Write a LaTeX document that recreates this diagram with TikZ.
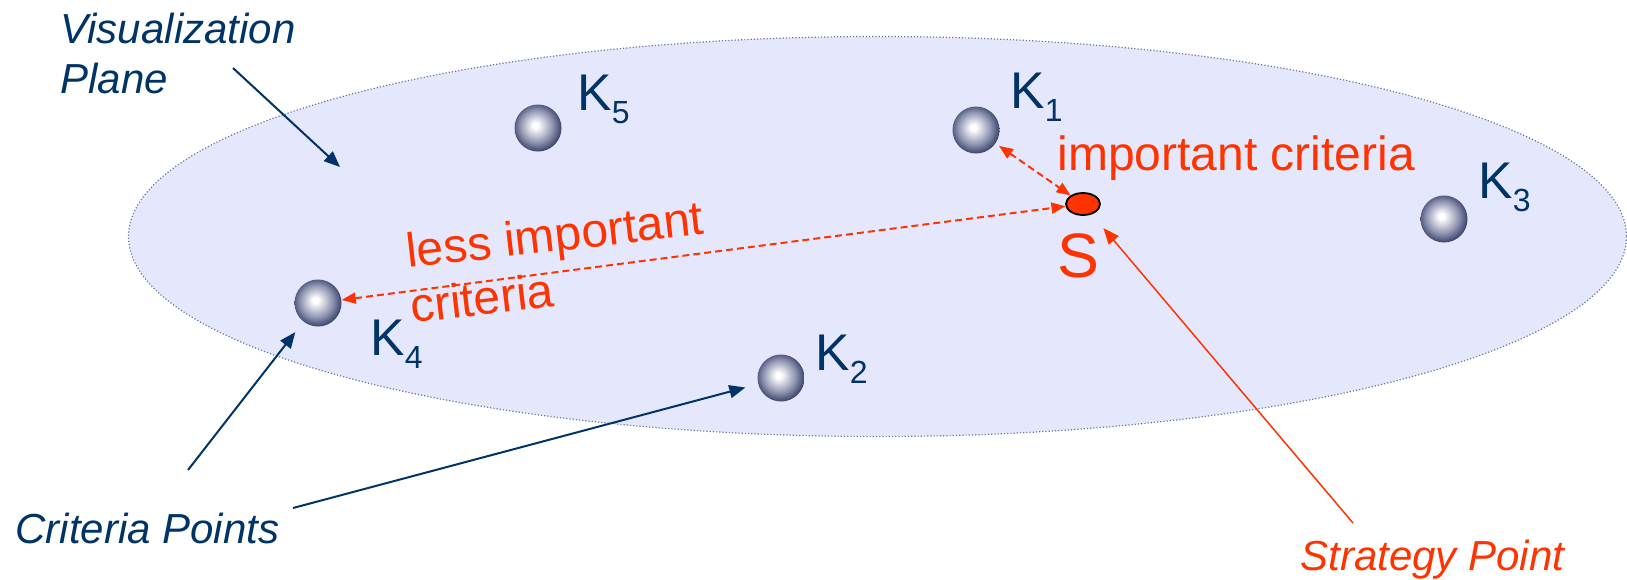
\documentclass[tikz,border=0pt]{standalone}
\usepackage{fontspec}
\setmainfont{Liberation Sans}
\usetikzlibrary{arrows.meta,shapes.geometric}
\definecolor{navy}{RGB}{0,51,102}
\definecolor{redo}{RGB}{255,51,0}
\definecolor{planefill}{RGB}{229,231,252}
\definecolor{planeline}{RGB}{105,120,160}
\definecolor{sgray}{RGB}{145,150,178}
\definecolor{sdark}{RGB}{36,44,86}
\pgfdeclareradialshading{sphereshade}{\pgfpoint{-3bp}{3bp}}{color(0bp)=(white); color(3bp)=(white); color(17bp)=(sgray); color(29bp)=(sdark); color(50bp)=(sdark)}
\newcommand{\ksub}[1]{\raisebox{-6.5pt}{\fontsize{16pt}{18pt}\selectfont #1}}
\begin{document}
\begin{tikzpicture}[x=0.5pt,y=-0.5pt,
  sphere/.style={circle,minimum size=23.5pt,inner sep=0pt,shading=sphereshade},
  klabel/.style={anchor=base west,inner sep=0pt,text=navy,font=\fontsize{25.8pt}{30pt}\selectfont},
  bluelabel/.style={anchor=base west,inner sep=0pt,text=navy,font=\fontsize{21pt}{25pt}\selectfont\itshape},
  redlabel/.style={anchor=base west,inner sep=0pt,text=redo,font=\fontsize{24pt}{28pt}\selectfont},
  callout/.style={draw=navy,line width=1pt,-{Triangle[length=8pt,width=6.5pt]}},
  redcallout/.style={draw=redo,line width=0.75pt,-{Triangle[length=8pt,width=6.5pt]}},
  reddash/.style={draw=redo,line width=1pt,dash pattern=on 3.5pt off 2pt,{Triangle[length=7pt,width=5.5pt]}-{Triangle[length=7pt,width=5.5pt]}},
  strategy/.style={ellipse,minimum width=17pt,minimum height=11pt,inner sep=0pt,fill=redo,draw=black,line width=0.9pt}
]
\useasboundingbox (0,0) rectangle (1627,579);
% plane
\draw[draw=planeline,densely dotted,line width=0.6pt,fill=planefill] (877.5,236.5) ellipse [x radius=749, y radius=200];
% spheres
\node[sphere] (K1) at (976,130) {};
\node[sphere] (K2) at (781,378) {};
\node[sphere] (K3) at (1444,219) {};
\node[sphere] (K4) at (318,303) {};
\node[sphere] (K5) at (538,128) {};
\node[strategy] (S) at (1083,204) {};
% K labels
\node[klabel] (K1l) at (1010,108) {K\ksub{1}};
\node[klabel] (K2l) at (815,370) {K\ksub{2}};
\node[klabel] (K3l) at (1478,198) {K\ksub{3}};
\node[klabel] (K4l) at (370,355) {K\ksub{4}};
\node[klabel] (K5l) at (577,110) {K\ksub{5}};
% red labels
\node[redlabel] (imp) at (1057,170) {important criteria};
\node[redlabel,font=\fontsize{31.4pt}{34pt}\selectfont] (Sl) at (1057,277) {S};
\node[redlabel,rotate=6.5] (less) at (408,268) {less important};
\node[redlabel,rotate=6.5] (crit) at (412,323) {criteria};
% dashed relations
\draw[reddash,shorten <=2pt] (K1) -- (S);
\draw[reddash] (K4) -- (S);
% callout labels
\node[bluelabel] (vis) at (60,43) {Visualization};
\node[bluelabel] (plane) at (60,93) {Plane};
\node[bluelabel] (crp) at (15,543) {Criteria Points};
\node[bluelabel,text=redo] (stp) at (1300,570) {Strategy Point};
% callouts
\coordinate (vpA) at (233,68);
\coordinate (vpB) at (340,167);
\draw[callout] (vpA) -- (vpB);
\coordinate (cpA) at (188,470);
\coordinate (cpB) at (293,508);
\draw[callout,shorten >=6.5pt] (cpA) -- (K4);
\draw[callout,shorten >=6.5pt] (cpB) -- (K2);
\coordinate (spA) at (1353,523);
\draw[redcallout,shorten >=9pt] (spA) -- (S);
\end{tikzpicture}
\end{document}
